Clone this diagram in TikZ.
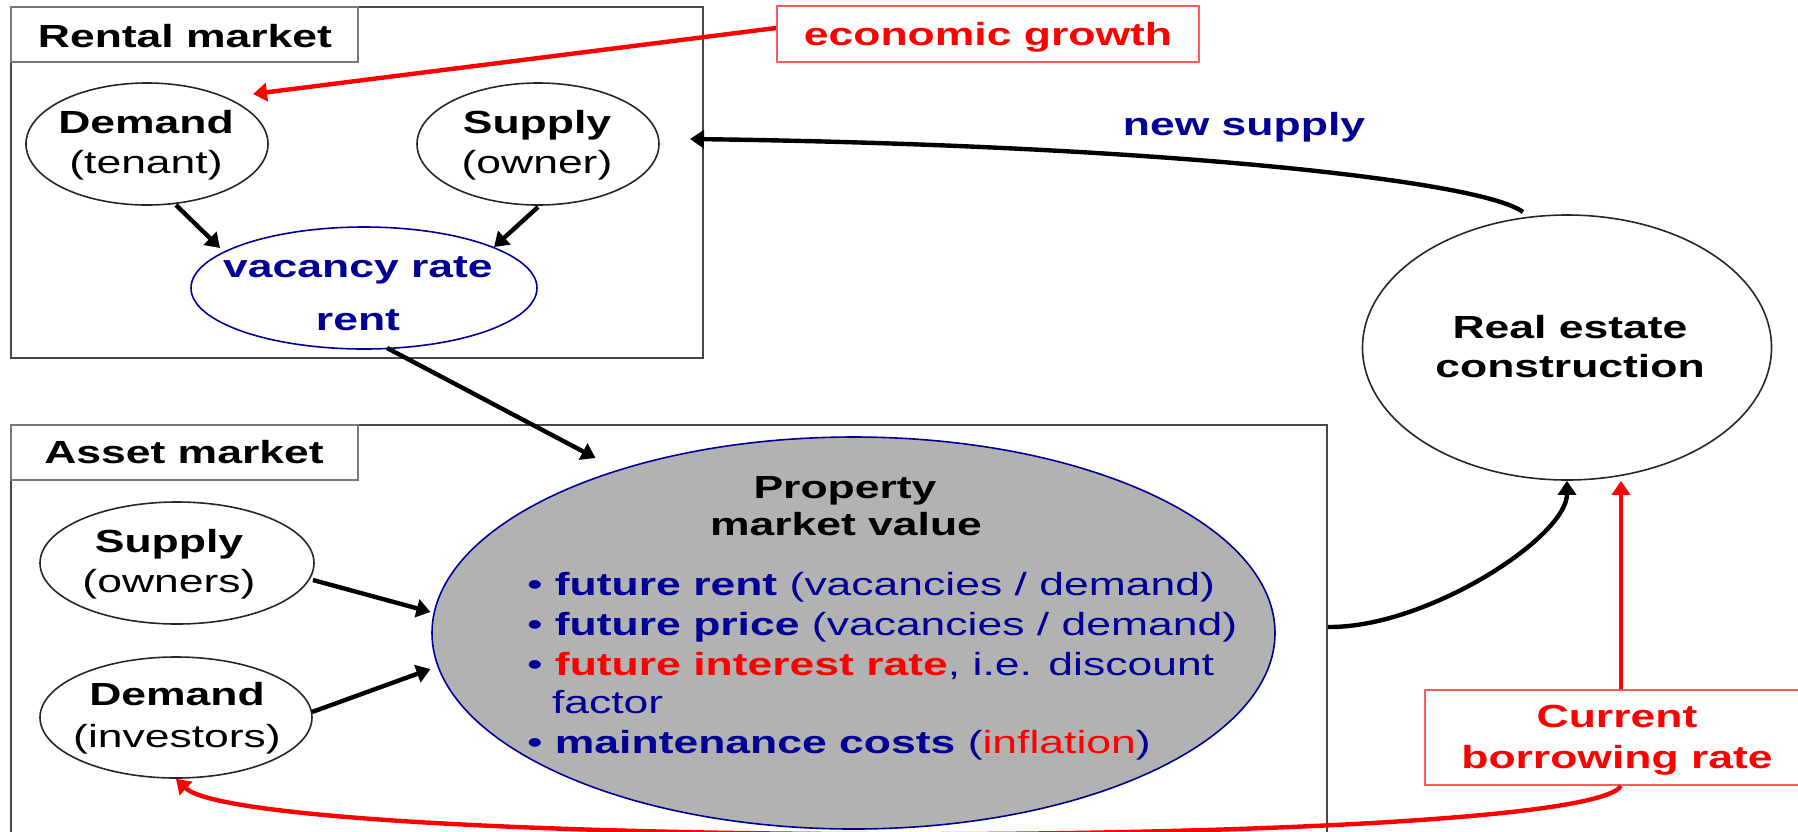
\documentclass[tikz,border=0pt]{standalone}
\usepackage{fontspec}
\setmainfont{Liberation Sans}[FakeStretch=1.39]
\usetikzlibrary{shapes.geometric,arrows.meta,calc}
\definecolor{navy}{RGB}{0,0,150}
\definecolor{boxgray}{RGB}{70,70,70}
\definecolor{titlegray}{RGB}{120,120,120}
\definecolor{lightred}{RGB}{255,90,90}
\definecolor{pvfill}{RGB}{178,178,178}
\begin{document}
\fontsize{16pt}{20pt}\selectfont
\begin{tikzpicture}[x=0.5pt,y=-0.5pt,
  txt/.style={inner sep=0pt,outer sep=0pt,anchor=base},
  frame/.style={draw=boxgray,line width=1pt,rectangle,inner sep=0pt},
  tbox/.style={draw=titlegray,line width=1pt,rectangle,inner sep=0pt},
  rbox/.style={draw=lightred,line width=1pt,rectangle,inner sep=0pt},
  oval/.style={ellipse,draw=black!85,line width=0.8pt,inner sep=0pt},
  arr/.style={line width=2.2pt,-{Triangle[length=7pt,width=9pt]}},
]
\useasboundingbox (0,0) rectangle (1798,831);

% frames
\node[frame,minimum width=346pt,minimum height=175.5pt] (rm) at (357,182.5) {};
\node[tbox,minimum width=173.5pt,minimum height=27.5pt] (rmt) at (184.5,34.5) {};
\node[frame,minimum width=658pt,minimum height=237.5pt] (am) at (669,662.5) {};
\node[tbox,minimum width=173.5pt,minimum height=27.5pt] (amt) at (184.5,452.5) {};
\node[rbox,minimum width=211pt,minimum height=28pt] (econ) at (988,34) {};
\node[rbox,minimum width=196pt,minimum height=47.5pt] (cbr) at (1621,737.5) {};

% ellipses
\node[oval,minimum width=121pt,minimum height=61pt] (dt) at (147,144) {};
\node[oval,minimum width=121pt,minimum height=61pt] (so) at (538,144) {};
\node[oval,draw=navy,minimum width=173pt,minimum height=61pt] (v) at (364,288) {};
\node[oval,minimum width=204.5pt,minimum height=132.5pt] (re) at (1567,347.5) {};
\node[oval,minimum width=137pt,minimum height=61pt] (sos) at (177,563) {};
\node[oval,minimum width=136pt,minimum height=60.5pt] (di) at (176,717.5) {};
\node[oval,draw=navy,fill=pvfill,minimum width=421.5pt,minimum height=196pt] (pv) at (853.5,633) {};

% texts
\node[txt,font=\bfseries] (rmtx) at (185,47) {Rental market};
\node[txt,font=\bfseries] (amtx) at (184,463) {Asset market};
\node[txt,font=\bfseries] (dt1) at (146,133) {Demand};
\node[txt] (dt2) at (146,173) {(tenant)};
\node[txt,font=\bfseries] (so1) at (537,133) {Supply};
\node[txt] (so2) at (537,173) {(owner)};
\node[txt,font=\bfseries,text=navy] (v1) at (358,277) {vacancy rate};
\node[txt,font=\bfseries,text=navy] (v2) at (358,330) {rent};
\node[txt,font=\bfseries,text=red] (econtx) at (988,45) {economic growth};
\node[txt,font=\bfseries,text=navy] (nstx) at (1244,135) {new supply};
\node[txt,font=\bfseries] (re1) at (1570,338) {Real estate};
\node[txt,font=\bfseries] (re2) at (1570,377) {construction};
\node[txt,font=\bfseries] (sos1) at (169,552) {Supply};
\node[txt] (sos2) at (169,592) {(owners)};
\node[txt,font=\bfseries] (di1) at (177,705) {Demand};
\node[txt] (di2) at (177,747) {(investors)};
\node[txt,font=\bfseries] (pv1) at (845,498) {Property};
\node[txt,font=\bfseries] (pv2) at (846,535) {market value};
\node[txt,anchor=base west,text=navy] (b1) at (527,595) {•~\textbf{future rent} (vacancies / demand)};
\node[txt,anchor=base west,text=navy] (b2) at (527,635) {•~\textbf{future price} (vacancies / demand)};
\node[txt,anchor=base west,text=navy] (b3) at (527,675) {•~\textbf{\color{red}future interest rate}, i.e. discount};
\node[txt,anchor=base west,text=navy] (b4) at (552,713) {factor};
\node[txt,anchor=base west,text=navy] (b5) at (527,753) {•~\textbf{maintenance costs} ({\color{red}inflation})};
\node[txt,font=\bfseries,text=red] (cbr1) at (1617,727) {Current};
\node[txt,font=\bfseries,text=red] (cbr2) at (1617,768) {borrowing rate};

% connectors
\draw[arr,red] ($(econ.west)+(0,-6)$) -- ($(dt.center)+(106,-50)$);
\draw[arr] ($(dt.center)+(29,61)$) -- ($(v.center)+(-144,-40)$);
\draw[arr] ($(so.center)+(0,63)$) -- ($(v.center)+(130,-41)$);
\draw[arr] ($(v.center)+(23,60)$) -- ($(pv.center)+(-258,-175)$);
\draw[arr] ($(re.center)+(-44,-135.5)$) .. controls (1480,180) and (1150,145) .. ($(so.center)+(152,-5)$);
\draw[arr] ($(am.north east)+(0,203)$) .. controls (1427,628) and (1567,537) .. (re.south);
\draw[arr,red] (cbr.north) -- (cbr.north |- re.south);
\draw[arr,red] (cbr.south) .. controls (1580,850) and (250,850) .. (di.south);
\draw[arr] ($(sos.center)+(136,17)$) -- ($(pv.center)+(-423,-21)$);
\draw[arr] ($(di.center)+(136,-5.5)$) -- ($(pv.center)+(-423,36)$);
\end{tikzpicture}
\end{document}
